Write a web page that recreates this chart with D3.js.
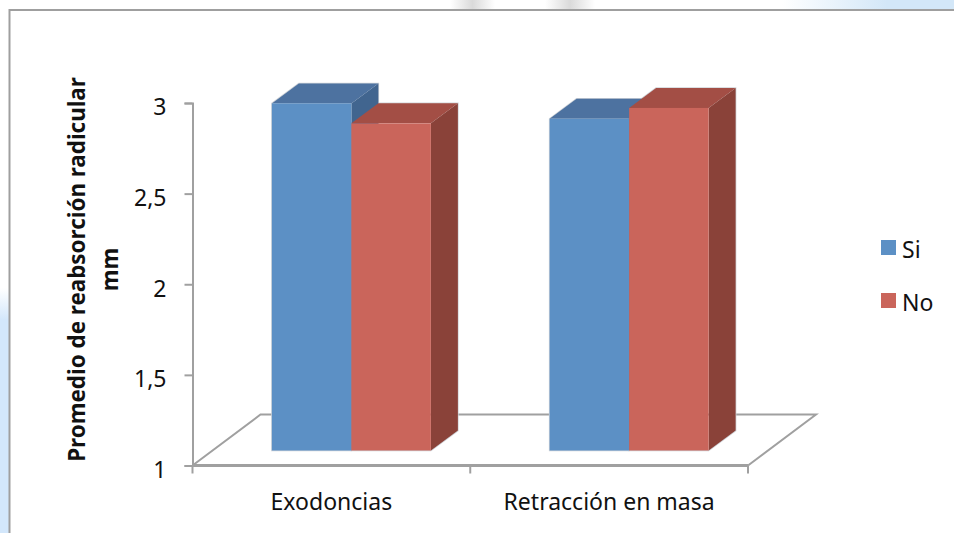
<!DOCTYPE html>
<html>
<head>
<meta charset="utf-8">
<script src="https://cdn.jsdelivr.net/npm/d3@7"></script>
<style>
  body { margin: 0; background: #fff; }
  svg { display: block; }
  text { font-family: "Noto Sans", "Open Sans", sans-serif; fill: #111; }
</style>
</head>
<body>
<svg id="chart" width="954" height="533"></svg>
<script>
const categories = ['Exodoncias', 'Retracción en masa'];
const seriesNames = ['Si', 'No'];
const si = [2.915, 2.83];
const no = [2.805, 2.89];
const yTicks = [1, 1.5, 2, 2.5, 3];
const yTitle = ['Promedio de reabsorción radicular', 'mm'];

const colors = {
  Si: { front: '#5c90c5', top: '#4d72a0', side: '#41658f' },
  No: { front: '#ca655b', top: '#a34e45', side: '#8a4239' }
};

const svg = d3.select('#chart');
const axisColor = '#a0a0a0';
const labelSize = 23;

// Page backdrop behind the chart frame
const defs = svg.append('defs');
const leftGrad = defs.append('linearGradient').attr('id', 'leftBand')
  .attr('x1', 0).attr('y1', 0).attr('x2', 0).attr('y2', 1);
leftGrad.append('stop').attr('offset', '0.54').attr('stop-color', '#ffffff');
leftGrad.append('stop').attr('offset', '0.6').attr('stop-color', '#d3e7fb');
const topGrad = defs.append('linearGradient').attr('id', 'topBand');
topGrad.append('stop').attr('offset', '0.82').attr('stop-color', '#ffffff');
topGrad.append('stop').attr('offset', '0.93').attr('stop-color', '#d3e7f8');
const swoosh = defs.append('linearGradient').attr('id', 'swoosh');
swoosh.append('stop').attr('offset', '0').attr('stop-color', '#fff');
swoosh.append('stop').attr('offset', '0.5').attr('stop-color', '#dadada');
swoosh.append('stop').attr('offset', '1').attr('stop-color', '#fff');

svg.append('rect').attr('x', 0).attr('y', 0).attr('width', 9).attr('height', 533).attr('fill', 'url(#leftBand)');
svg.append('rect').attr('x', 0).attr('y', 0).attr('width', 954).attr('height', 9).attr('fill', 'url(#topBand)');
svg.append('rect').attr('x', 450).attr('y', 0).attr('width', 45).attr('height', 9).attr('fill', 'url(#swoosh)');
svg.append('rect').attr('x', 545).attr('y', 0).attr('width', 50).attr('height', 9).attr('fill', 'url(#swoosh)');

// Chart frame, open on the right and bottom
svg.append('path')
  .attr('d', 'M9.5,533V10H954')
  .attr('fill', 'none').attr('stroke', '#9f9f9f').attr('stroke-width', 2);

const x0 = d3.scaleBand().domain(categories).range([192.5, 748]);
const y = d3.scaleLinear().domain([1, 3]).range([465.5, 103]);

// 3D projection offsets: floor depth, bar front plane and bar depth
const floorDepth = { dx: 68, dy: -51 };
const frontPlane = { dx: 20, dy: -15 };
const barDepth = { dx: 27, dy: -20 };
const barWidth = 79.5;
const x1 = d3.scaleBand().domain(seriesNames)
  .range([x0.bandwidth() / 2 - barWidth, x0.bandwidth() / 2 + barWidth]);

// Floor of the plot
const base = y(1);
const xL = x0.range()[0], xR = x0.range()[1];
svg.append('path')
  .attr('d', `M${xL},${base}L${xL + floorDepth.dx},${base + floorDepth.dy}H${xR + floorDepth.dx}L${xR},${base}`)
  .attr('fill', 'none').attr('stroke', axisColor).attr('stroke-width', 2);

// Value axis
const yAxis = svg.append('g')
  .attr('transform', `translate(${xL},0)`)
  .call(d3.axisLeft(y).tickValues(yTicks).tickSize(8).tickPadding(18)
    .tickFormat(d => String(d).replace('.', ',')));
yAxis.selectAll('path,line').attr('stroke', axisColor).attr('stroke-width', 2);
yAxis.selectAll('text')
  .attr('font-size', labelSize)
  .attr('font-family', '"Noto Sans", "Open Sans", sans-serif')
  .attr('dy', '0.52em')
  .attr('fill', '#111');

// Category axis
const xAxis = svg.append('g').attr('transform', `translate(0,${base})`);
xAxis.append('line').attr('x1', xL).attr('x2', xR).attr('stroke', axisColor).attr('stroke-width', 3);
xAxis.selectAll('line.tick')
  .data(d3.range(categories.length + 1))
  .join('line')
  .attr('class', 'tick')
  .attr('x1', i => xL + i * x0.step()).attr('x2', i => xL + i * x0.step())
  .attr('y1', 0).attr('y2', 8)
  .attr('stroke', axisColor).attr('stroke-width', 2);
xAxis.selectAll('text')
  .data(categories)
  .join('text')
  .attr('x', d => x0(d) + x0.bandwidth() / 2)
  .attr('y', 44)
  .attr('text-anchor', 'middle')
  .attr('font-size', labelSize)
  .text(d => d);

// Bars, one pair per category, blue first so the red one overlaps it
const seriesValues = { Si: si, No: no };
const bars = [];
categories.forEach((cat, c) => {
  seriesNames.forEach(name => {
    const left = x0(cat) + x1(name) + frontPlane.dx;
    bars.push({
      name,
      left,
      right: left + x1.bandwidth(),
      topY: y(seriesValues[name][c]) + frontPlane.dy,
      bottomY: base + frontPlane.dy
    });
  });
});

// pale edge around each box, under all the fills
bars.forEach(b => {
  svg.append('path')
    .attr('d', `M${b.left},${b.bottomY}V${b.topY}l${barDepth.dx},${barDepth.dy}H${b.right + barDepth.dx}V${b.bottomY + barDepth.dy}L${b.right},${b.bottomY}Z`)
    .attr('fill', 'none').attr('stroke', '#cfd3d8').attr('stroke-width', 1.5);
});

bars.forEach(b => {
  const g = svg.append('g');
  g.append('path')
    .attr('d', `M${b.left},${b.topY}l${barDepth.dx},${barDepth.dy}H${b.right + barDepth.dx}L${b.right},${b.topY}Z`)
    .attr('fill', colors[b.name].top);
  g.append('path')
    .attr('d', `M${b.right},${b.topY}l${barDepth.dx},${barDepth.dy}V${b.bottomY + barDepth.dy}L${b.right},${b.bottomY}Z`)
    .attr('fill', colors[b.name].side);
  g.append('rect')
    .attr('x', b.left).attr('y', b.topY)
    .attr('width', b.right - b.left).attr('height', b.bottomY - b.topY)
    .attr('fill', colors[b.name].front);
});

// Rotated axis title
const title = svg.append('text')
  .attr('transform', 'translate(85,269.5) rotate(-90)')
  .attr('text-anchor', 'middle')
  .attr('font-size', 22.4)
  .attr('font-weight', 700);
title.selectAll('tspan')
  .data(yTitle)
  .join('tspan')
  .attr('x', 0)
  .attr('dy', (d, i) => i ? 33 : 0)
  .text(d => d);

// Legend
const legend = svg.selectAll('g.legend')
  .data(seriesNames)
  .join('g')
  .attr('class', 'legend')
  .attr('transform', (d, i) => `translate(881,${240 + i * 53})`);
legend.append('rect').attr('width', 15).attr('height', 15).attr('fill', d => colors[d].front);
legend.append('text').attr('x', 21).attr('y', 18).attr('font-size', labelSize).text(d => d);
</script>
</body>
</html>
